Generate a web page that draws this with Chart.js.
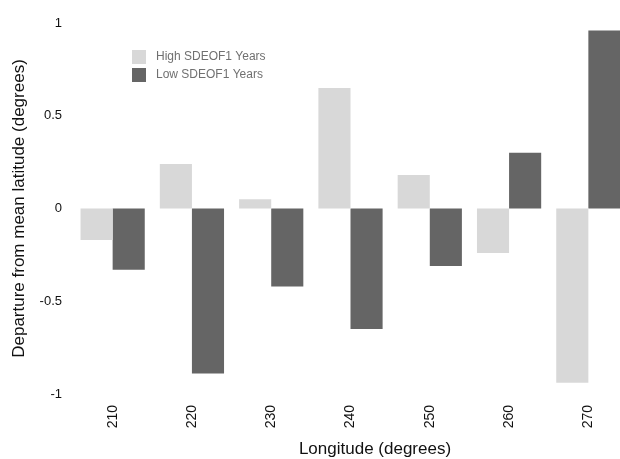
<!DOCTYPE html>
<html>
<head>
<meta charset="utf-8">
<title>Departure from mean latitude</title>
<script src="https://cdn.jsdelivr.net/npm/chart.js@4.4.1/dist/chart.umd.min.js"></script>
<style>
  html, body { margin: 0; background: #fff; overflow: hidden; }
  canvas { display: block; }
</style>
</head>
<body>
<!-- the original figure is cut off on the right, so the canvas is a bit wider than the window -->
<canvas id="grafico" width="628" height="459"></canvas>
<script>
const longitudes = ["210", "220", "230", "240", "250", "260", "270"];
const highYears = [-0.17, 0.24, 0.05, 0.65, 0.18, -0.24, -0.94];
const lowYears = [-0.33, -0.89, -0.42, -0.65, -0.31, 0.30, 0.96];
const yTicks = [-1, -0.5, 0, 0.5, 1];

const fonte = "'Liberation Sans', Arial, sans-serif";

// legenda e titulo do eixo x desenhados a mao (posicoes do original)
const extras = {
    id: "extras",
    afterDraw(chart) {
        const ctx = chart.ctx;
        ctx.save();
        ctx.font = "12px " + fonte;
        ctx.textBaseline = "middle";
        ctx.textAlign = "left";
        chart.data.datasets.forEach((ds, i) => {
            const y = 50 + i * 18;
            ctx.fillStyle = ds.backgroundColor;
            ctx.fillRect(132, y, 14, 14);
            ctx.fillStyle = "#707070";
            ctx.fillText(ds.label, 156, y + 7);
        });
        ctx.font = "17px " + fonte;
        ctx.fillStyle = "#111";
        ctx.textAlign = "center";
        ctx.textBaseline = "alphabetic";
        ctx.fillText("Longitude (degrees)", 375, 454);
        ctx.restore();
    }
};

new Chart(document.getElementById("grafico"), {
    type: "bar",
    data: {
        labels: longitudes,
        datasets: [
            { label: "High SDEOF1 Years", data: highYears, backgroundColor: "#d8d8d8" },
            { label: "Low SDEOF1 Years", data: lowYears, backgroundColor: "#656565" }
        ]
    },
    options: {
        responsive: false,
        animation: false,
        devicePixelRatio: 1,
        categoryPercentage: 0.81,
        barPercentage: 1,
        layout: { padding: { left: 0, right: 0, top: 23, bottom: 0 } },
        plugins: {
            legend: { display: false },
            tooltip: { enabled: false }
        },
        scales: {
            x: {
                grid: { display: false, drawTicks: false },
                border: { display: false },
                ticks: {
                    autoSkip: false,
                    minRotation: 90,
                    maxRotation: 90,
                    padding: 11,
                    color: "#111",
                    font: { family: fonte, size: 14 }
                },
                afterFit: s => { s.height = 65; }
            },
            y: {
                min: -1,
                max: 1,
                grid: { display: false, drawTicks: false },
                border: { display: false },
                afterBuildTicks: s => { s.ticks = yTicks.map(v => ({ value: v })); },
                ticks: {
                    padding: 11,
                    color: "#111",
                    font: { family: fonte, size: 13 },
                    callback: v => String(v)
                },
                title: {
                    display: true,
                    text: "Departure from mean latitude (degrees)",
                    color: "#111",
                    font: { family: fonte, size: 17 },
                    padding: { top: 9, bottom: 0 }
                },
                afterFit: s => { s.width = 73; }
            }
        }
    },
    plugins: [extras]
});
</script>
</body>
</html>
